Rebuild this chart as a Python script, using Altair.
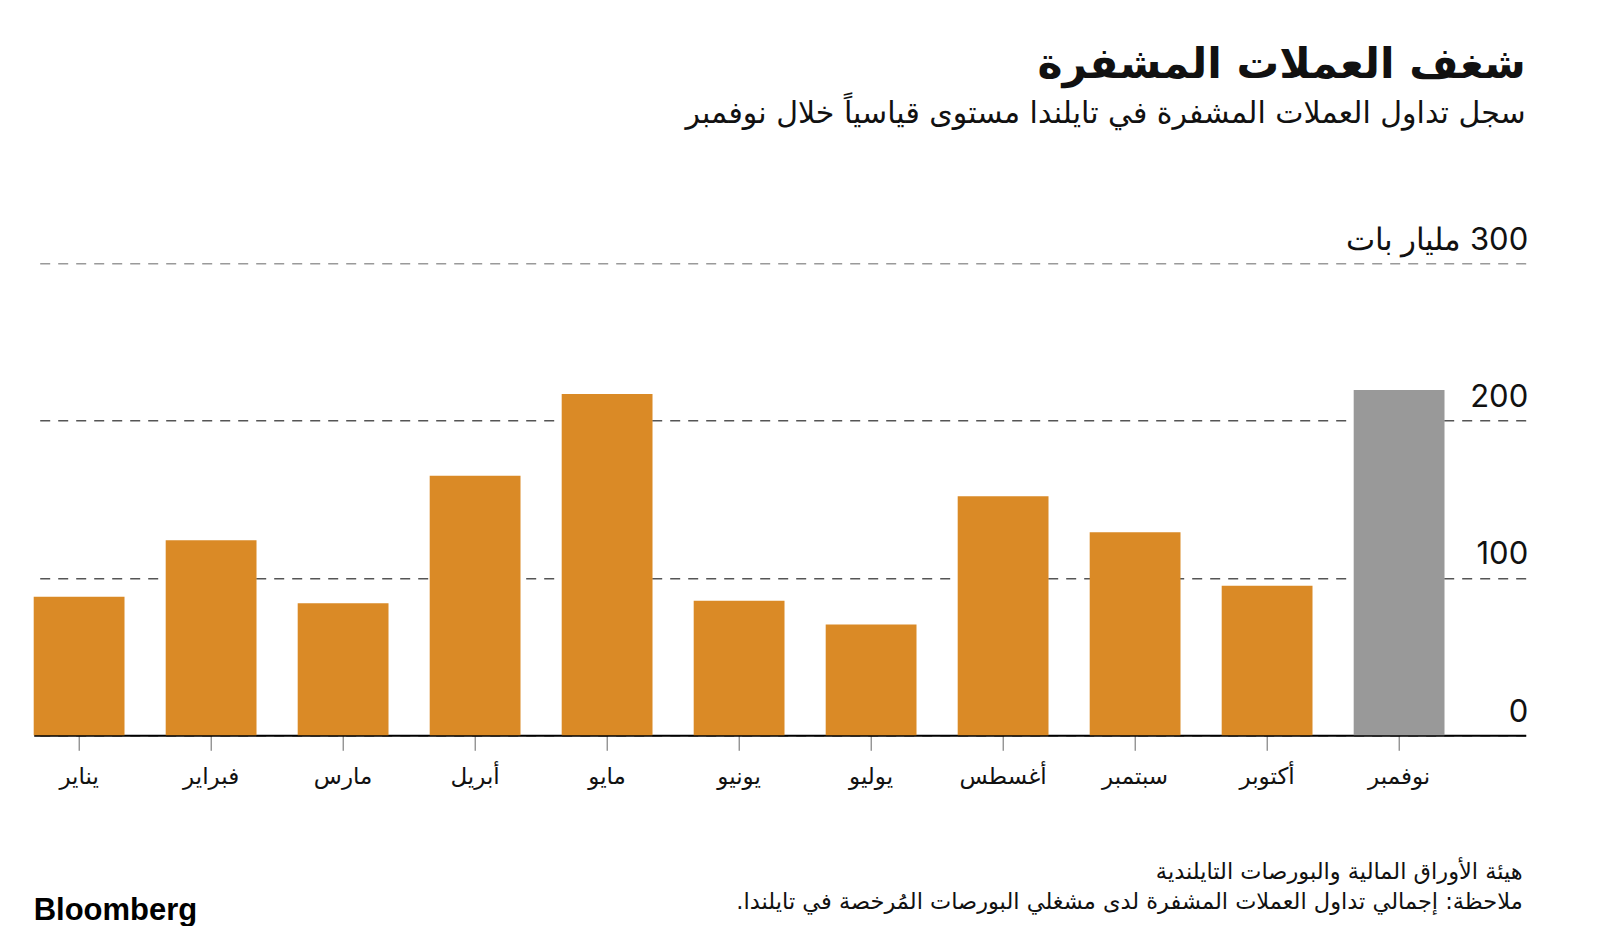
import altair as alt
import pandas as pd

# ---- data ----
months = ["يناير", "فبراير", "مارس", "أبريل", "مايو", "يونيو",
          "يوليو", "أغسطس", "سبتمبر", "أكتوبر", "نوفمبر"]
values = [88, 124, 84, 165, 217, 85.5, 70.5, 152, 129, 95, 219.5]
kinds = ["past"] * 10 + ["latest"]
y_ticks = [0, 100, 200, 300]
y_unit_label = "\u200f300 مليار بات"

title_text = "شغف العملات المشفرة"
subtitle_text = "سجل تداول العملات المشفرة في تايلندا مستوى قياسياً خلال نوفمبر"
source_text = "هيئة الأوراق المالية والبورصات التايلندية"
note_text = "ملاحظة: إجمالي تداول العملات المشفرة  لدى مشغلي البورصات المُرخصة في تايلندا.\u200f"
brand_text = "Bloomberg"

df = pd.DataFrame({"month": months, "value": values, "kind": kinds})

W = 1492
H = 472
AR = "DejaVu Sans"
NUM = "Inter"

bars = alt.Chart(df).mark_bar().encode(
    x=alt.X(
        "month:N",
        sort=months,
        scale=alt.Scale(paddingInner=0.312, paddingOuter=0.3075, align=0),
        axis=alt.Axis(
            title=None, labelAngle=0, labelFont=AR, labelFontSize=23,
            labelColor="#111", tickColor="#666", tickSize=15, tickWidth=1,
            domainColor="#000", domainWidth=2, labelPadding=33,
            labelBaseline="alphabetic", grid=False,
        ),
    ),
    y=alt.Y(
        "value:Q",
        scale=alt.Scale(domain=[0, 300], nice=False),
        axis=alt.Axis(
            title=None, orient="right", values=y_ticks, grid=True,
            gridDash=[10, 8], gridWidth=1.5,
            gridColor=alt.condition("datum.value == 300", alt.value("#9a9a9a"), alt.value("#555555")),
            domain=False, ticks=False, labelAlign="right",
            labelBaseline="alphabetic", labelOffset=-14, labelPadding=2,
            labelFont=NUM, labelFontSize=31, labelColor="#111", labelLimit=600,
            labelExpr=f"datum.value == 300 ? '{y_unit_label}' : datum.label",
        ),
    ),
    color=alt.Color(
        "kind:N",
        scale=alt.Scale(domain=["past", "latest"], range=["#DA8A26", "#999999"]),
        legend=None,
    ),
)

def txt(text, x, y, size, weight="normal", align="right", font=AR, color="#111"):
    return alt.Chart(df.head(1)).mark_text(
        text=text, align=align, baseline="alphabetic", fontSize=size,
        fontWeight=weight, font=font, color=color,
    ).encode(x=alt.value(x), y=alt.value(y))

title = txt(title_text, W, -185, 42.5, weight="bold")
subtitle = txt(subtitle_text, W, -140, 30)
source = txt(source_text, W - 3, 616, 22.5)
note = txt(note_text, W - 3, 645.5, 22.5)
brand = txt(brand_text, 0, 657, 31, weight="bold", align="left", font="Liberation Sans", color="#000")

chart = alt.layer(bars, title, subtitle, source, note, brand).properties(
    width=W, height=H,
    background="white",
    autosize=alt.AutoSizeParams(type="none"),
    padding={"left": 25.7, "top": 255.3, "right": 66, "bottom": 191},
).configure_view(stroke=None)

chart.save("out.html", embed_options={"renderer": "svg", "actions": False})
